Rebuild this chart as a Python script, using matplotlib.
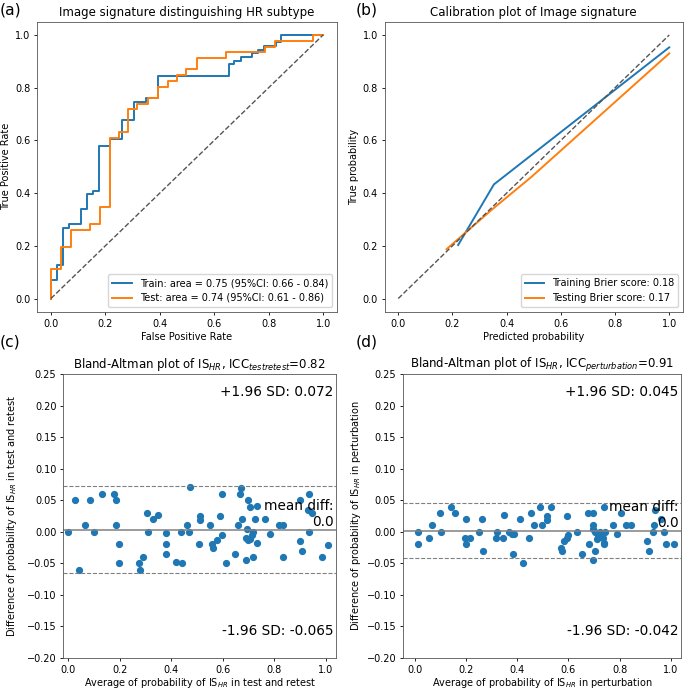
import matplotlib
matplotlib.use("Agg")
import matplotlib.pyplot as plt

# ............................................................................ #
# (a) ROC curves, corner points of the staircase

train_fpr = [0.000, 0.000, 0.023, 0.023, 0.045, 0.045, 0.067, 0.067, 0.109, 0.109,
             0.133, 0.133, 0.155, 0.155, 0.176, 0.176, 0.217, 0.217, 0.262, 0.262,
             0.306, 0.306, 0.349, 0.349, 0.392, 0.392, 0.654, 0.654, 0.673, 0.673,
             0.698, 0.698, 0.740, 0.740, 0.762, 0.762, 0.784, 0.784, 0.826, 0.826,
             0.847, 0.847, 1.000]
train_tpr = [0.000, 0.070, 0.070, 0.127, 0.127, 0.269, 0.269, 0.283, 0.283, 0.338,
             0.338, 0.397, 0.397, 0.409, 0.409, 0.579, 0.579, 0.605, 0.605, 0.677,
             0.677, 0.747, 0.747, 0.760, 0.760, 0.846, 0.846, 0.889, 0.889, 0.901,
             0.901, 0.915, 0.915, 0.930, 0.930, 0.943, 0.943, 0.959, 0.959, 0.972,
             0.972, 1.000, 1.000]

test_fpr = [0.000, 0.000, 0.037, 0.037, 0.072, 0.072, 0.143, 0.143, 0.180, 0.180,
            0.217, 0.217, 0.251, 0.251, 0.285, 0.285, 0.315, 0.315, 0.357, 0.357,
            0.394, 0.394, 0.431, 0.431, 0.464, 0.464, 0.498, 0.498, 0.535, 0.535,
            0.643, 0.643, 0.786, 0.786, 0.823, 0.823, 0.963, 0.963, 1.000]
test_tpr = [0.000, 0.111, 0.111, 0.197, 0.197, 0.260, 0.260, 0.283, 0.283, 0.349,
            0.349, 0.610, 0.610, 0.631, 0.631, 0.718, 0.718, 0.738, 0.738, 0.761,
            0.761, 0.804, 0.804, 0.826, 0.826, 0.848, 0.848, 0.870, 0.870, 0.914,
            0.914, 0.934, 0.934, 0.956, 0.956, 0.977, 0.977, 1.000, 1.000]

roc_labels = ["Train: area = 0.75 (95%CI: 0.66 - 0.84)",
              "Test: area = 0.74 (95%CI: 0.61 - 0.86)"]

# (b) calibration
cal_train_pred = [0.221, 0.353, 1.000]
cal_train_true = [0.203, 0.433, 0.953]
cal_test_pred  = [0.178, 0.344, 0.492, 1.000]
cal_test_true  = [0.187, 0.336, 0.462, 0.930]
cal_labels = ["Training Brier score: 0.18", "Testing Brier score: 0.17"]

# (c) Bland-Altman, test-retest
c_avg = [0.000, 0.025, 0.040, 0.065, 0.085, 0.100, 0.130, 0.179, 0.184, 0.184,
         0.198, 0.195, 0.275, 0.278, 0.289, 0.304, 0.309, 0.328, 0.347, 0.379,
         0.379, 0.380, 0.417, 0.437, 0.442, 0.462, 0.469, 0.472, 0.506, 0.512,
         0.512, 0.551, 0.557, 0.563, 0.577, 0.589, 0.596, 0.596, 0.611, 0.648,
         0.661, 0.667, 0.670, 0.676, 0.689, 0.689, 0.693, 0.699, 0.699, 0.706,
         0.706, 0.712, 0.716, 0.718, 0.725, 0.731, 0.731, 0.764, 0.783, 0.820,
         0.835, 0.835, 0.900, 0.900, 0.909, 0.934, 0.934, 0.930, 0.945, 0.984,
         1.007]
c_diff = [0.000, 0.050, -0.060, 0.010, 0.050, 0.000, 0.060, 0.060, 0.050, 0.010,
          -0.020, -0.050, -0.050, -0.060, -0.040, 0.030, 0.000, 0.020, 0.027, -0.002,
          -0.020, -0.035, -0.048, 0.000, -0.050, 0.010, 0.000, 0.071, -0.020, 0.025,
          0.018, 0.010, -0.019, -0.026, -0.013, 0.025, 0.060, -0.005, -0.050, -0.035,
          0.010, 0.060, 0.070, 0.020, -0.045, -0.010, 0.004, 0.050, -0.013, 0.040,
          -0.011, -0.005, -0.040, 0.000, 0.020, 0.041, -0.017, 0.020, -0.003, 0.010,
          0.010, -0.040, 0.050, -0.014, -0.030, 0.060, 0.000, 0.035, 0.030, -0.040,
          -0.021]
c_mean, c_upper, c_lower = 0.0035, 0.072, -0.065

# (d) Bland-Altman, perturbation
d_avg = [0.010, 0.010, 0.056, 0.065, 0.096, 0.101, 0.141, 0.156, 0.196, 0.200,
         0.200, 0.216, 0.250, 0.261, 0.264, 0.316, 0.320, 0.345, 0.349, 0.369,
         0.381, 0.386, 0.383, 0.410, 0.421, 0.447, 0.455, 0.465, 0.490, 0.495,
         0.516, 0.517, 0.531, 0.569, 0.575, 0.583, 0.593, 0.594, 0.600, 0.632,
         0.654, 0.675, 0.680, 0.695, 0.695, 0.694, 0.697, 0.702, 0.704, 0.710,
         0.715, 0.723, 0.736, 0.737, 0.739, 0.740, 0.743, 0.776, 0.790, 0.807,
         0.826, 0.843, 0.906, 0.916, 0.930, 0.935, 0.937, 0.962, 0.973, 0.980,
         1.013]
d_diff = [0.000, -0.020, -0.010, 0.010, 0.030, 0.000, 0.040, 0.030, -0.010, 0.020,
          -0.020, -0.010, 0.000, 0.020, -0.030, -0.010, 0.000, -0.010, 0.027, 0.000,
          -0.003, -0.003, -0.035, 0.020, -0.049, -0.010, 0.030, 0.010, 0.040, 0.010,
          0.018, 0.025, 0.040, -0.026, -0.030, -0.014, 0.025, -0.010, -0.005, 0.000,
          -0.035, 0.030, -0.020, 0.030, 0.010, -0.045, 0.004, 0.000, -0.030, -0.012,
          -0.005, 0.000, -0.010, 0.040, -0.017, -0.020, 0.000, 0.010, -0.003, 0.030,
          0.010, 0.010, -0.015, -0.030, 0.000, 0.010, 0.035, 0.020, 0.000, -0.020,
          -0.020]
d_mean, d_upper, d_lower = 0.0015, 0.045, -0.042

# ............................................................................ #
# the original was a bigger figure scaled down (~0.7), so shrink the defaults alike

plt.rcParams.update({
    "font.size": 7.0,
    "axes.titlesize": 8.5,
    "axes.titlepad": 4.2,
    "axes.labelpad": 2.8,
    "axes.linewidth": 0.6,
    "axes.edgecolor": "#555555",
    "xtick.major.size": 2.45,
    "ytick.major.size": 2.45,
    "xtick.major.pad": 2.45,
    "ytick.major.pad": 2.45,
    "xtick.major.width": 0.6,
    "ytick.major.width": 0.6,
})

W, H = 685, 690
fig = plt.figure(figsize=(W / 100, H / 100), dpi=100)

def px_axes(left, top, right, bottom):
    return fig.add_axes([left / W, 1 - bottom / H, (right - left) / W, (bottom - top) / H])

ax_a = px_axes(37.3, 21.8, 336.7, 311.7)
ax_b = px_axes(384.7, 21.8, 682.8, 311.7)
ax_c = px_axes(63.3, 374, 336, 658)
ax_d = px_axes(403, 374, 681, 658)

# (a)
ax_a.plot(train_fpr, train_tpr, color="C0", lw=1.4, label=roc_labels[0])
ax_a.plot(test_fpr, test_tpr, color="C1", lw=1.4, label=roc_labels[1])
ax_a.plot([0, 1], [0, 1], "--", color="#555555", lw=1.0)
ax_a.set_title("Image signature distinguishing HR subtype")
ax_a.set_xlabel("False Positive Rate")
ax_a.set_ylabel("True Positive Rate")
ax_a.legend(loc="lower right")

# (b)
ax_b.plot(cal_train_pred, cal_train_true, color="C0", lw=1.4, label=cal_labels[0])
ax_b.plot(cal_test_pred, cal_test_true, color="C1", lw=1.4, label=cal_labels[1])
ax_b.plot([0, 1], [0, 1], "--", color="#555555", lw=1.0)
ax_b.set_title("Calibration plot of Image signature")
ax_b.set_xlabel("Predicted probability")
ax_b.set_ylabel("True probability")
ax_b.legend(loc="lower right")

# (c), (d)
def bland_altman(ax, avg, diff, mean, upper, lower, title, what, xlim, ypad):
    ax.scatter(avg, diff, s=17.6, color="C0")
    ax.axhline(mean, color="gray", lw=1.1)
    ax.axhline(upper, color="gray", ls="--", lw=0.8)
    ax.axhline(lower, color="gray", ls="--", lw=0.8)
    ax.set_ylim(-0.20, 0.25)
    ax.set_xlim(*xlim)
    ax.set_yticks([-0.20, -0.15, -0.10, -0.05, 0.00, 0.05, 0.10, 0.15, 0.20, 0.25])
    ax.set_title(title)
    ax.set_xlabel("Average of probability of IS$_{HR}$ in " + what, labelpad=1.0)
    ax.set_ylabel("Difference of probability of IS$_{HR}$ in " + what, labelpad=ypad)
    ax.text(0.99, 0.937, "+1.96 SD: %s" % upper, transform=ax.transAxes,
            ha="right", va="center", fontsize=9.8)
    ax.text(0.99, 0.095, "-1.96 SD: %s" % lower, transform=ax.transAxes,
            ha="right", va="center", fontsize=9.8)
    ax.text(xlim[1] - 0.01, mean + 0.001, "mean diff:\n%s" % round(mean, 2),
            ha="right", va="bottom", multialignment="right", fontsize=9.8)

bland_altman(ax_c, c_avg, c_diff, c_mean, c_upper, c_lower,
             "Bland-Altman plot of IS$_{HR}$, ICC$_{testretest}$=0.82",
             "test and retest", (-0.02, 1.04), 6.0)
bland_altman(ax_d, d_avg, d_diff, d_mean, d_upper, d_lower,
             "Bland-Altman plot of IS$_{HR}$, ICC$_{perturbation}$=0.91",
             "perturbation", (-0.047, 1.04), 2.8)

for lab, x, y in [("(a)", 0, 10), ("(b)", 356, 10), ("(c)", 0, 342), ("(d)", 356, 342)]:
    fig.text(x / W, 1 - y / H, lab, fontsize=11.2, ha="left", va="center")

fig.savefig("out.png", dpi=100)
